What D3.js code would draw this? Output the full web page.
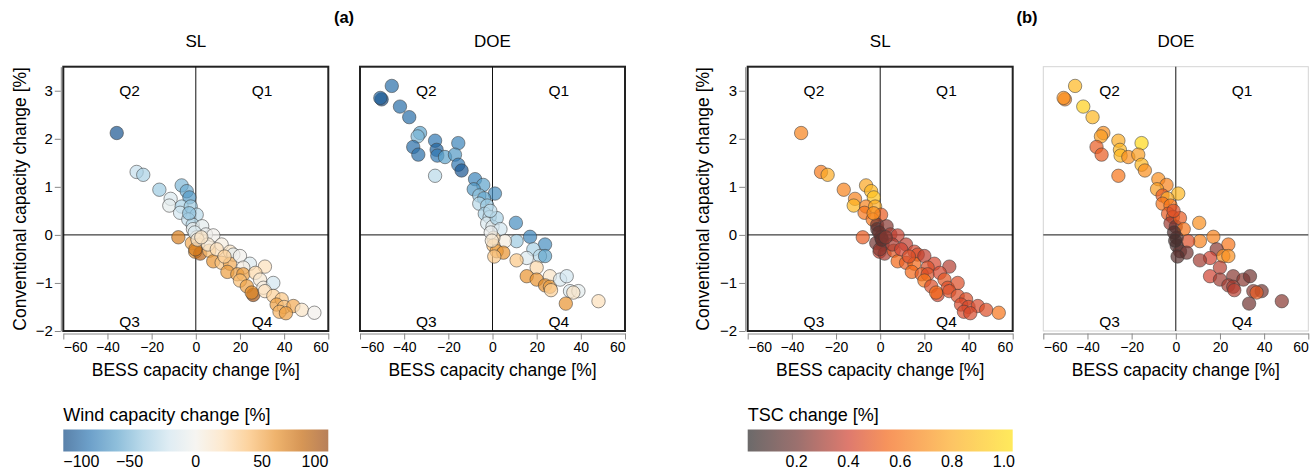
<!DOCTYPE html>
<html>
<head>
<meta charset="utf-8">
<script src="https://cdn.jsdelivr.net/npm/d3@7"></script>
<style>
  body { margin: 0; background: #fff; }
  svg text { font-family: "Liberation Sans", Arial, Helvetica, sans-serif; fill: #000; }
</style>
</head>
<body>
<svg id="chart" width="1316" height="470"></svg>
<script>
// ---- SL scenarios: BESS change, conventional change, wind change, TSC change ----
const slBess = [-35.8, -26.8, -23.8, -16.5, -6.4, -4.1, -2.9, -11.4, -12.0, -6.4, -7.1, -2.3, 0.4, -3.4, -1.4, -1.3, 2.9, 4.6, 7.9, -7.9,
  0.4, 1.1, -1.8, -0.3, 2.0, -0.2, 6.1, 11.7, 15.5, 17.0, 7.9, 11.7, 15.5, 20.0, 24.5, 21.5, 31.3, 14.3, 18.8, 21.5,
  27.0, 20.0, 23.1, 29.1, 30.6, 35.1, 26.0, 25.3, 31.3, 35.1, 38.9, 36.6, 40.0, 44.2, 37.9, 40.8, 48.0, 53.7,
  -0.5, 0.8, -3.0, 5.5, 9.5, 13.0, 2.5];
const slConv = [2.12, 1.31, 1.25, 0.94, 1.03, 0.91, 0.78, 0.75, 0.61, 0.59, 0.46, 0.59, 0.42, 0.32, 0.21, 0.12, 0.18, 0.01, -0.01, -0.05,
  -0.05, -0.20, -0.17, -0.35, -0.39, -0.30, -0.33, -0.20, -0.35, -0.41, -0.55, -0.58, -0.60, -0.44, -0.60, -0.68, -0.66, -0.77, -0.82, -0.82,
  -0.79, -0.95, -1.07, -0.93, -1.10, -1.00, -1.25, -1.20, -1.17, -1.27, -1.34, -1.45, -1.50, -1.48, -1.60, -1.63, -1.56, -1.62,
  0.05, -0.10, 0.45, -0.20, -0.30, -0.45, -0.05];
const slWind = [-95, -25, -35, -40, -50, -55, -65, -15, -8, -35, -20, -40, -30, -25, -30, -5, -10, -5, 0, 70,
  20, 40, 50, 60, 85, 70, 40, 5, 15, -10, 60, 35, 50, 0, -15, 5, 20, 55, 55, 55,
  25, 40, 55, 10, 5, -20, 95, 65, 20, 30, 35, 55, 35, 50, 45, 55, 15, 0,
  -15, 10, -45, 10, 20, 30, 15];
const slTsc = [0.65, 0.62, 0.80, 0.65, 0.78, 0.85, 0.90, 0.65, 0.85, 0.65, 0.60, 0.80, 0.50, 0.60, 0.20, 0.15, 0.25, 0.30, 0.38, 0.50,
  0.20, 0.20, 0.20, 0.38, 0.32, 0.25, 0.48, 0.36, 0.42, 0.45, 0.55, 0.50, 0.55, 0.36, 0.42, 0.45, 0.34, 0.55, 0.50, 0.45,
  0.42, 0.60, 0.45, 0.48, 0.45, 0.45, 0.42, 0.55, 0.45, 0.45, 0.45, 0.43, 0.43, 0.43, 0.43, 0.43, 0.45, 0.60,
  0.15, 0.15, 0.70, 0.32, 0.40, 0.45, 0.25];

// ---- DOE scenarios ----
const doeBess = [-45.6, -50.2, -50.8, -41.9, -37.7, -32.8, -33.9, -26.0, -25.3, -35.9, -33.6, -25.0, -21.5, -15.5, -17.0, -15.5, -14.0, -26.0, -7.9, -4.2,
  -8.5, 1.1, -6.0, -3.8, -6.0, -2.4, -3.5, -1.3, -2.4, 0.0, 10.6, 1.9, 3.6, 17.0, 23.8, 10.9, 5.6, 0.4, 0.4, 1.9,
  4.9, 18.5, 21.5, 23.8, 15.5, 10.9, 20.0, 15.5, 20.0, 26.0, 23.8, 26.0, 26.5, 30.6, 33.6, 35.1, 38.9, 36.6, 33.2, 48.0,
  -0.8, -0.3, 0.8, -1.0];
const doeConv = [3.10, 2.82, 2.85, 2.67, 2.45, 2.12, 2.05, 1.96, 1.77, 1.83, 1.67, 1.65, 1.62, 1.91, 1.67, 1.46, 1.34, 1.23, 1.16, 1.04,
  0.95, 0.86, 0.82, 0.76, 0.65, 0.61, 0.44, 0.37, 0.24, 0.17, 0.25, 0.35, 0.12, -0.04, -0.20, -0.13, -0.13, -0.06, -0.22, -0.34,
  -0.37, -0.30, -0.44, -0.44, -0.48, -0.53, -0.68, -0.86, -0.93, -0.86, -1.05, -1.08, -1.15, -0.93, -0.86, -1.17, -1.17, -1.20, -1.43, -1.38,
  0.05, -0.12, -0.45, 0.50];
const doeWind = [-85, -100, -90, -85, -85, -60, -50, -80, -90, -85, -85, -80, -60, -75, -65, -80, -95, -30, -75, -60,
  -65, -70, -45, -60, -30, -40, -35, -25, -15, -10, -70, -35, -20, -75, -70, -40, 5, 25, 40, 55,
  60, -35, -30, -60, -15, 35, 25, 60, 60, 15, 65, 55, 30, -15, -20, -15, -10, 15, 60, 20,
  -5, 10, 35, -30];
const doeTsc = [0.85, 0.65, 0.70, 0.95, 0.85, 0.70, 0.75, 0.80, 0.85, 0.50, 0.50, 0.85, 0.70, 1.00, 0.75, 0.85, 0.70, 0.60, 0.70, 0.65,
  0.75, 0.85, 0.50, 0.80, 0.60, 0.60, 0.50, 0.50, 0.30, 0.20, 0.70, 0.50, 0.60, 0.65, 0.60, 0.65, 0.45, 0.15, 0.10, 0.15,
  0.20, 0.25, 0.70, 0.70, 0.40, 0.30, 0.35, 0.40, 0.30, 0.25, 0.30, 0.30, 0.35, 0.25, 0.20, 0.25, 0.20, 0.50, 0.20, 0.25,
  0.10, 0.08, 0.12, 0.45];

// ---- axes, quadrants and legend ticks ----
const xTicks = [-60, -40, -20, 0, 20, 40, 60];
const yTicks = [-2, -1, 0, 1, 2, 3];
const quadNames = ["Q1", "Q2", "Q3", "Q4"];
const quadX = [30, -30, -30, 30];
const quadY = [3, 3, -1.8, -1.8];
const windTicks = [-100, -50, 0, 50, 100];
const tscTicks = [0.2, 0.4, 0.6, 0.8, 1.0];

// ---- colour schemes ----
const blueOrange = ["#134b85", "#2f78b3", "#5da2cb", "#9dcae1", "#d2e5ef", "#f2f0eb",
                    "#fce0ba", "#fbbf74", "#e8932f", "#c5690d", "#994a13"];
const windColor = d3.scaleLinear()
  .domain(d3.range(blueOrange.length).map(i => -100 + i * 200 / (blueOrange.length - 1)))
  .range(blueOrange).clamp(true);

const tscDomain = [0.011, 0.2, 0.4, 0.55, 0.8, 1.034];
const tscRange = ["#2d2a2a", "#703330", "#d04130", "#f46616", "#fcab22", "#ffe116"];
const tscColor = d3.scaleLinear().domain(tscDomain).range(tscRange).clamp(true);

const OPACITY = 0.7;

const svg = d3.select("#chart");
const W = 265, H = 264.3, TOP = 66.7;
const x = d3.scaleLinear().domain([-60, 60]).range([0, W]);
const y = d3.scaleLinear().domain([-2, 3.5]).range([H, 0]);

const sl = slBess.map((b, i) => ({ bess: b, conv: slConv[i], wind: slWind[i], tsc: slTsc[i] }));
const doe = doeBess.map((b, i) => ({ bess: b, conv: doeConv[i], wind: doeWind[i], tsc: doeTsc[i] }));

const panels = [
  { left: 63.3,   title: "SL",  data: sl,  color: d => windColor(d.wind), yAxis: true,  frame: "#222", fw: 2 },
  { left: 360,    title: "DOE", data: doe, color: d => windColor(d.wind), yAxis: false, frame: "#222", fw: 2 },
  { left: 747.7,  title: "SL",  data: sl,  color: d => tscColor(d.tsc),   yAxis: true,  frame: "#222", fw: 2 },
  { left: 1043.3, title: "DOE", data: doe, color: d => tscColor(d.tsc),   yAxis: false, frame: "#d4d4d4", fw: 1 }
];

panels.forEach(p => {
  const g = svg.append("g").attr("transform", `translate(${p.left},${TOP})`);

  // subplot title
  g.append("text").attr("x", W / 2).attr("y", -25).attr("text-anchor", "middle")
    .attr("dominant-baseline", "central").style("font-size", "17px").text(p.title);

  // x axis, offset below the frame
  const xa = g.append("g").attr("transform", `translate(0,${H + 2.5})`)
    .call(d3.axisBottom(x).tickValues(xTicks).tickFormat(d3.format("d"))
      .tickSize(6).tickSizeOuter(0).tickPadding(2.5));
  xa.select(".domain").attr("stroke", "#888");
  xa.selectAll(".tick line").attr("stroke", "#888");
  xa.selectAll(".tick text").style("font-size", "14px").attr("fill", "#000");
  const xt = xa.selectAll(".tick text").nodes();
  d3.select(xt[0]).attr("text-anchor", "start");
  d3.select(xt[xt.length - 1]).attr("text-anchor", "end");

  g.append("text").attr("x", W / 2).attr("y", H + 39).attr("text-anchor", "middle")
    .attr("dominant-baseline", "central").style("font-size", "17.5px").text("BESS capacity change [%]");

  if (p.yAxis) {
    const ya = g.append("g").attr("transform", "translate(-2.5,0)")
      .call(d3.axisLeft(y).tickValues(yTicks).tickFormat(d3.format("d"))
        .tickSize(6).tickSizeOuter(0).tickPadding(2));
    ya.select(".domain").attr("stroke", "#888");
    ya.selectAll(".tick line").attr("stroke", "#888");
    ya.selectAll(".tick text").style("font-size", "15px").attr("fill", "#000");
    g.append("text")
      .attr("transform", `translate(${p.left === 63.3 ? -43.3 : -45.1},${H / 2}) rotate(-90)`)
      .attr("text-anchor", "middle").attr("dominant-baseline", "central")
      .style("font-size", "17.5px").text("Conventional capacity change [%]");
  }

  // frame
  g.append("rect").attr("width", W).attr("height", H)
    .attr("fill", "none").attr("stroke", p.frame).attr("stroke-width", p.fw);

  // zero lines
  g.append("line").attr("x1", x(0)).attr("x2", x(0)).attr("y1", 0).attr("y2", H)
    .attr("stroke", "#111").attr("stroke-width", 1);
  g.append("line").attr("x1", 0).attr("x2", W).attr("y1", y(0)).attr("y2", y(0))
    .attr("stroke", "#111").attr("stroke-width", 1);

  // quadrant labels
  g.selectAll("text.quad").data(quadNames).join("text").attr("class", "quad")
    .attr("x", (d, i) => x(quadX[i])).attr("y", (d, i) => y(quadY[i]))
    .attr("text-anchor", "middle").attr("dominant-baseline", "central")
    .style("font-size", "15.5px").text(d => d);

  // scenario points
  g.selectAll("circle").data(p.data).join("circle")
    .attr("cx", d => x(d.bess)).attr("cy", d => y(d.conv)).attr("r", 6.7)
    .attr("fill", p.color).attr("fill-opacity", OPACITY)
    .attr("stroke", "#3a3a3a").attr("stroke-opacity", 0.6).attr("stroke-width", 0.9);
});

// panel tags
svg.append("text").attr("x", 344).attr("y", 17).attr("text-anchor", "middle")
  .attr("dominant-baseline", "central").style("font-size", "16.5px").style("font-weight", "bold").text("(a)");
svg.append("text").attr("x", 1027).attr("y", 17).attr("text-anchor", "middle")
  .attr("dominant-baseline", "central").style("font-size", "16.5px").style("font-weight", "bold").text("(b)");

// colour legends
const defs = svg.append("defs");
function legend(id, left, title, scale, domain, ticks, fmt) {
  const LW = 265, top = 429.5, LH = 22;
  const grad = defs.append("linearGradient").attr("id", id);
  d3.range(0, 1.0001, 0.02).forEach(t => {
    grad.append("stop").attr("offset", `${t * 100}%`)
      .attr("stop-color", scale(domain[0] + t * (domain[1] - domain[0])));
  });
  const g = svg.append("g").attr("transform", `translate(${left},0)`);
  g.append("text").attr("x", 0).attr("y", 414.5).attr("dominant-baseline", "central")
    .style("font-size", "18px").text(title);
  g.append("rect").attr("y", top).attr("width", LW).attr("height", LH)
    .attr("fill", `url(#${id})`).attr("opacity", OPACITY);
  const ls = d3.scaleLinear().domain(domain).range([0, LW]);
  g.selectAll("text.lab").data(ticks).join("text").attr("class", "lab")
    .attr("x", d => ls(d)).attr("y", 461).attr("dominant-baseline", "central")
    .attr("text-anchor", d => ls(d) <= 0.5 ? "start" : ls(d) >= LW - 0.5 ? "end" : "middle")
    .style("font-size", "16px").text(fmt);
}
legend("windGrad", 63.3, "Wind capacity change [%]", windColor, [-100, 100], windTicks, d3.format("d"));
legend("tscGrad", 747.7, "TSC change [%]", tscColor, [0.011, 1.034], tscTicks, d3.format(".1f"));
</script>
</body>
</html>
